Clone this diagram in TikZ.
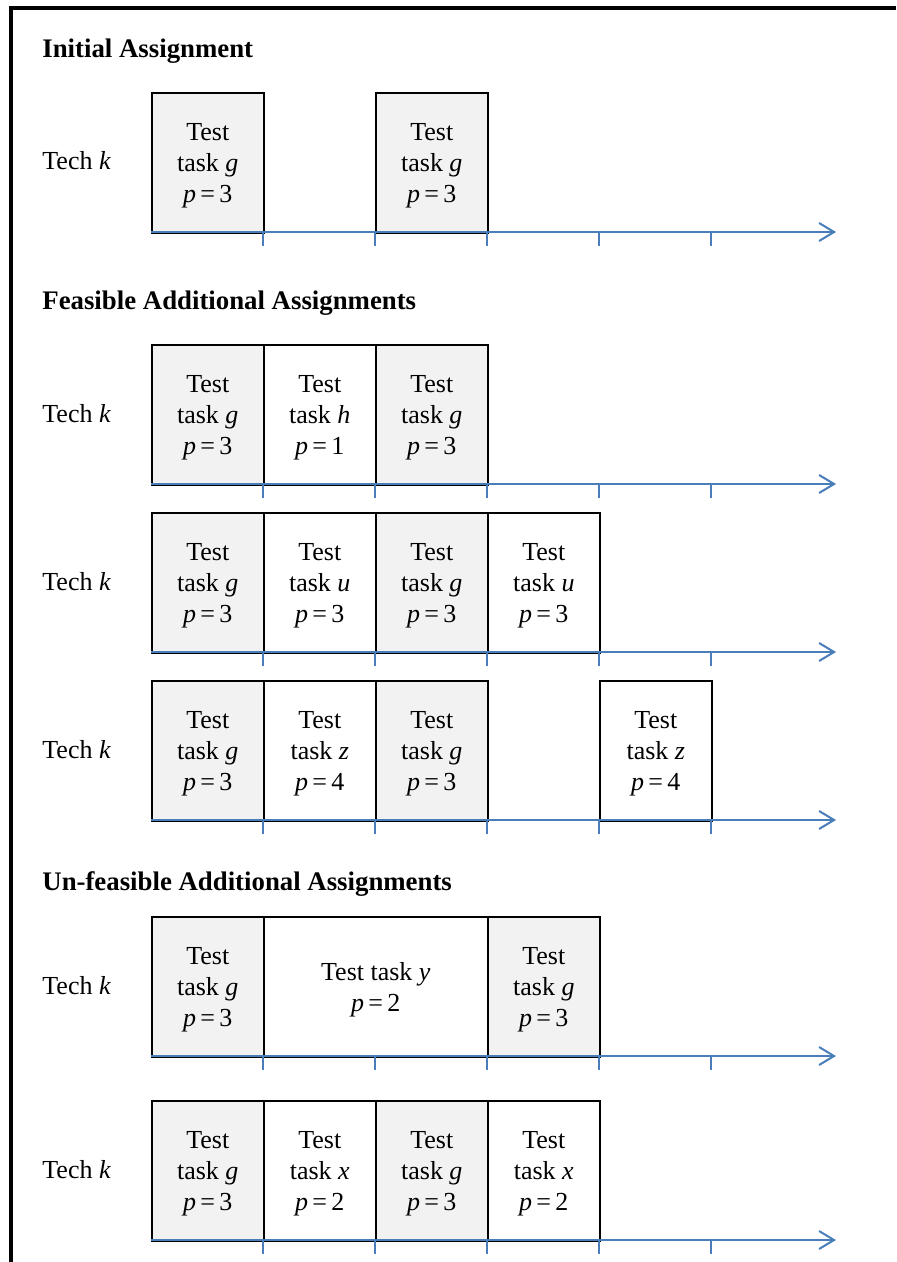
\documentclass[tikz,border=0pt]{standalone}
\usepackage{fontspec}
\setmainfont{Liberation Serif}
\usetikzlibrary{arrows.meta}
\definecolor{boxgrey}{RGB}{242,242,242}
\definecolor{axisblue}{RGB}{74,126,187}
\newcommand{\topstrut}{\rule{0pt}{11.6pt}}
\newcommand{\mytimeaxis}[2]{%
  \coordinate (#1s) at (151,#2);
  \coordinate (#1e) at (836,#2);
  \draw[axisline] (#1s) -- (#1e);
  \foreach \tx in {263,375,487,599,711} {\draw[tickline] (\tx,#2) -- ++(0,14);}
}
\begin{document}
\begin{tikzpicture}[x=0.5pt,y=-0.5pt,
  every node/.style={font=\fontsize{13}{15.5}\selectfont},
  title/.style={anchor=base west, inner sep=0pt, font=\fontsize{13.4}{16}\selectfont\bfseries},
  techlabel/.style={anchor=base west, inner sep=0pt},
  taskbox/.style={draw=black, line width=0.8pt, fill=white, minimum width=56pt, minimum height=70pt, inner sep=0pt, align=center, anchor=north west},
  gtask/.style={taskbox, fill=boxgrey},
  widebox/.style={taskbox, minimum width=112pt},
  axisline/.style={draw=axisblue, line width=1pt, -{Straight Barb[length=7.5pt,width=9pt,line width=1pt]}},
  tickline/.style={draw=axisblue, line width=1pt},
  frameline/.style={draw=black, line width=2pt},
]
\useasboundingbox (0,0) rectangle (896,1262);
% frame
\coordinate (fbl) at (10.5,1262);
\coordinate (ftl) at (10.5,8);
\coordinate (ftr) at (896,8);
\draw[frameline] (fbl) -- (ftl) -- (ftr);

% ---- Initial Assignment
\node[title] (t1) at (42,58) {Initial Assignment};
\node[techlabel] (k1) at (42,170) {Tech \textit{k}};
\node[gtask] (r1a) at (151,92) {\topstrut Test\\task \textit{g}\\\textit{p}\,=\,3};
\node[gtask] (r1b) at (375,92) {\topstrut Test\\task \textit{g}\\\textit{p}\,=\,3};
\mytimeaxis{ax1}{232}

% ---- Feasible
\node[title] (t2) at (42,310) {Feasible Additional Assignments};
\node[techlabel] (k2) at (42,422) {Tech \textit{k}};
\node[gtask] (r2a) at (151,344) {\topstrut Test\\task \textit{g}\\\textit{p}\,=\,3};
\node[taskbox] (r2b) at (263,344) {\topstrut Test\\task \textit{h}\\\textit{p}\,=\,1};
\node[gtask] (r2c) at (375,344) {\topstrut Test\\task \textit{g}\\\textit{p}\,=\,3};
\mytimeaxis{ax2}{484}

\node[techlabel] (k3) at (42,590) {Tech \textit{k}};
\node[gtask] (r3a) at (151,512) {\topstrut Test\\task \textit{g}\\\textit{p}\,=\,3};
\node[taskbox] (r3b) at (263,512) {\topstrut Test\\task \textit{u}\\\textit{p}\,=\,3};
\node[gtask] (r3c) at (375,512) {\topstrut Test\\task \textit{g}\\\textit{p}\,=\,3};
\node[taskbox] (r3d) at (487,512) {\topstrut Test\\task \textit{u}\\\textit{p}\,=\,3};
\mytimeaxis{ax3}{652}

\node[techlabel] (k4) at (42,758) {Tech \textit{k}};
\node[gtask] (r4a) at (151,680) {\topstrut Test\\task \textit{g}\\\textit{p}\,=\,3};
\node[taskbox] (r4b) at (263,680) {\topstrut Test\\task \textit{z}\\\textit{p}\,=\,4};
\node[gtask] (r4c) at (375,680) {\topstrut Test\\task \textit{g}\\\textit{p}\,=\,3};
\node[taskbox] (r4d) at (599,680) {\topstrut Test\\task \textit{z}\\\textit{p}\,=\,4};
\mytimeaxis{ax4}{820}

% ---- Un-feasible
\node[title] (t3) at (42,890) {Un-feasible Additional Assignments};
\node[techlabel] (k5) at (42,994) {Tech \textit{k}};
\node[gtask] (r5a) at (151,916) {\topstrut Test\\task \textit{g}\\\textit{p}\,=\,3};
\node[widebox] (r5b) at (263,916) {\topstrut Test task \textit{y}\\\textit{p}\,=\,2};
\node[gtask] (r5c) at (487,916) {\topstrut Test\\task \textit{g}\\\textit{p}\,=\,3};
\mytimeaxis{ax5}{1056}

\node[techlabel] (k6) at (42,1178) {Tech \textit{k}};
\node[gtask] (r6a) at (151,1100) {\topstrut Test\\task \textit{g}\\\textit{p}\,=\,3};
\node[taskbox] (r6b) at (263,1100) {\topstrut Test\\task \textit{x}\\\textit{p}\,=\,2};
\node[gtask] (r6c) at (375,1100) {\topstrut Test\\task \textit{g}\\\textit{p}\,=\,3};
\node[taskbox] (r6d) at (487,1100) {\topstrut Test\\task \textit{x}\\\textit{p}\,=\,2};
\mytimeaxis{ax6}{1240}
\end{tikzpicture}
\end{document}
